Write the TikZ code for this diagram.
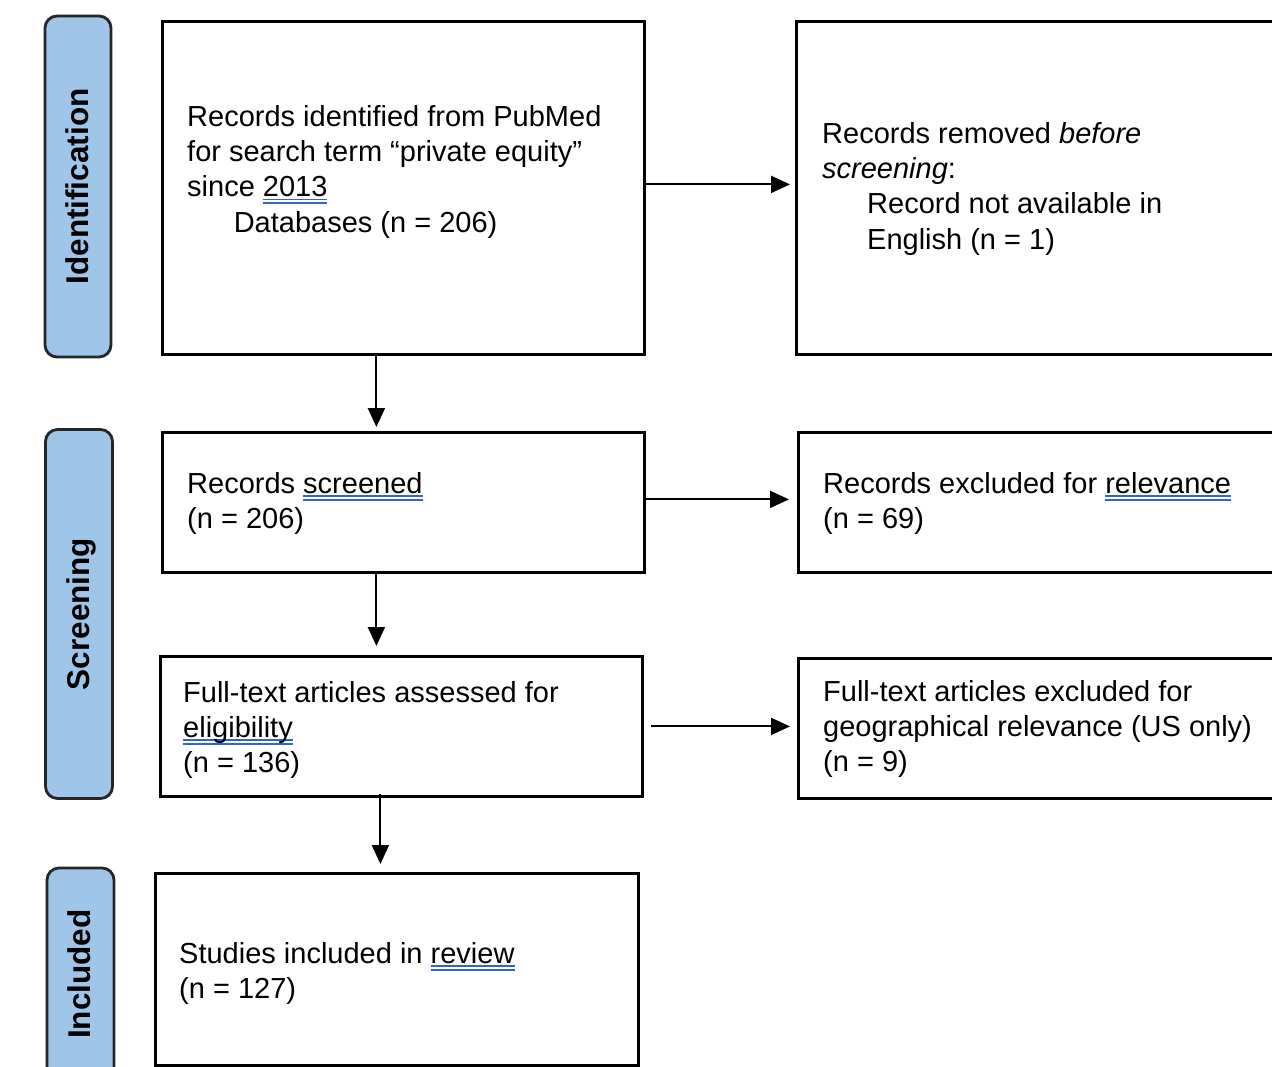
\documentclass[tikz,border=0pt]{standalone}
\usepackage{fontspec}
\setmainfont{Liberation Sans}
\usetikzlibrary{arrows.meta}
\definecolor{pillblue}{HTML}{9FC5E8}
\definecolor{splc}{HTML}{2F64D2}
\newcommand\spl[1]{\setbox0=\hbox{#1}\rlap{\textcolor{splc}{\rule[-3.6pt]{\wd0}{1.9pt}}}\rlap{\textcolor{splc}{\rule[-7.4pt]{\wd0}{1.9pt}}}\box0}
\newcommand\sr{\rule{0pt}{24pt}}
\begin{document}
\begin{tikzpicture}[x=1pt,y=-1pt,
  box/.style={draw=black, line width=2.8pt, fill=white, inner sep=0pt, anchor=north west},
  pill/.style={draw=black!85, line width=2.8pt, fill=pillblue, rounded corners=12pt, inner sep=0pt},
  txt/.style={anchor=north west, inner sep=0pt, align=left, font=\fontsize{29}{35.3}\selectfont},
  side/.style={rotate=90, anchor=base, inner sep=0pt, font=\bfseries\fontsize{31.5}{36}\selectfont},
  arr/.style={line width=2pt, -{Triangle[length=19pt,width=17pt]}}
]
\clip (0,0) rectangle (1272,1066);
\fill[white] (0,0) rectangle (1272,1066);

% side pills
\node[pill, minimum width=66pt, minimum height=341pt] (p1) at (78,186.5) {};
\node[pill, minimum width=67pt, minimum height=369pt] (p2) at (79,614) {};
\node[pill, minimum width=67pt, minimum height=230pt] (p3) at (80.5,983) {};
\node[side] (l1) at (88,186.5) {Identification};
\node[side] (l2) at (89,614) {Screening};
\node[side] (l3) at (90,974) {Included};

% boxes
\node[box, minimum width=482pt, minimum height=333pt] (b1) at (161,20) {};
\node[box, minimum width=520pt, minimum height=333pt] (b2) at (795,20) {};
\node[box, minimum width=482pt, minimum height=140pt] (b3) at (161,431) {};
\node[box, minimum width=520pt, minimum height=140pt] (b4) at (797,431) {};
\node[box, minimum width=482pt, minimum height=140pt] (b5) at (159,655) {};
\node[box, minimum width=520pt, minimum height=140pt] (b6) at (797,657) {};
\node[box, minimum width=483pt, minimum height=192pt] (b7) at (154,872) {};

% texts
\node[txt] (t1) at (187,102) {\sr Records identified from PubMed\\for search term “private equity”\\since \spl{2013}\\\hspace*{46.6pt}Databases (n = 206)};
\node[txt] (t2) at (822,119) {\sr Records removed \textit{before}\\\textit{screening}:\\\hspace*{45pt}Record not available in\\\hspace*{45pt}English (n = 1)};
\node[txt] (t3) at (187,469) {\sr Records \spl{screened}\\(n = 206)};
\node[txt] (t4) at (823,469) {\sr Records excluded for \spl{relevance}\\(n = 69)};
\node[txt] (t5) at (183,678) {\sr Full-text articles assessed for\\\spl{eligibility}\\(n = 136)};
\node[txt] (t6) at (823,677) {\sr Full-text articles excluded for\\geographical relevance (US only)\\(n = 9)};
\node[txt] (t7) at (179,939) {\sr Studies included in \spl{review}\\(n = 127)};

% connectors
\coordinate (a1) at ([yshift=3.5pt]b1.east);
\draw[arr, shorten >=5pt] (a1) -- (a1 -| b2.west);
\coordinate (a2) at ([xshift=-27pt]b1.south);
\draw[arr, shorten >=4pt] (a2) -- (a2 |- b3.north);
\coordinate (a3) at ([yshift=3pt]b3.east);
\draw[arr, shorten >=8pt] (a3) -- (a3 -| b4.west);
\coordinate (a4) at ([xshift=-27pt]b3.south);
\draw[arr, shorten >=9pt] (a4) -- (a4 |- b5.north);
\coordinate (a5) at (b5.east);
\draw[arr, shorten <=7pt, shorten >=7pt] (a5) -- (a5 -| b6.west);
\coordinate (a6) at ([xshift=-21pt,yshift=4pt]b5.south);
\draw[arr, shorten >=8pt] (a6) -- (a6 |- b7.north);
\end{tikzpicture}
\end{document}
